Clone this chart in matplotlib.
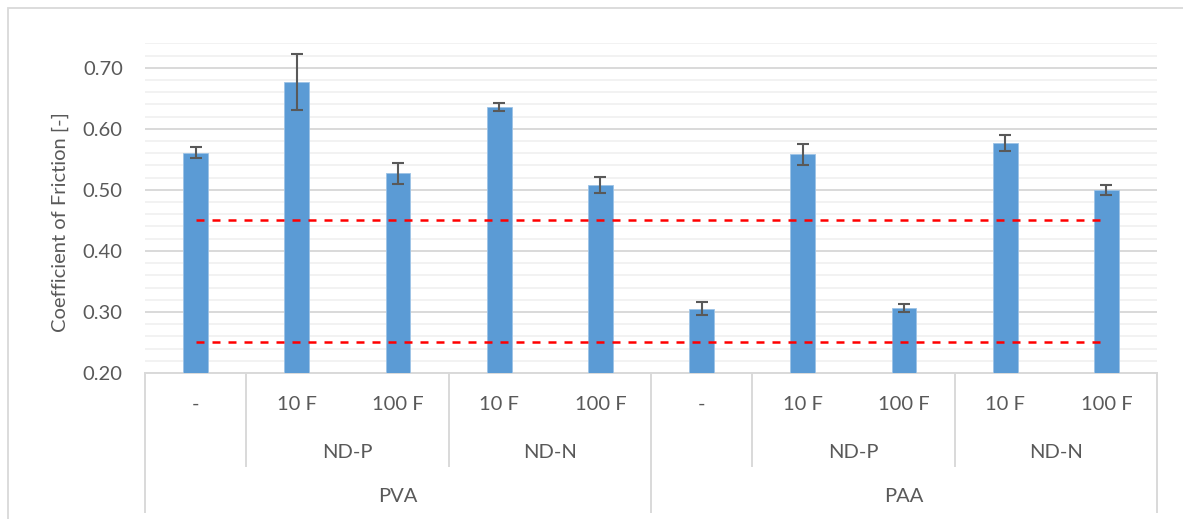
import matplotlib
matplotlib.use("Agg")
import matplotlib.pyplot as plt
from matplotlib.lines import Line2D
from matplotlib.patches import Rectangle
from matplotlib.ticker import MultipleLocator, FormatStrFormatter

# Three-level category axis
level1 = ["-", "10 F", "100 F", "10 F", "100 F", "-", "10 F", "100 F", "10 F", "100 F"]
level2 = ["ND-P", "ND-N", "ND-P", "ND-N"]
level2_spans = [(1, 2), (3, 4), (6, 7), (8, 9)]
level3 = ["PVA", "PAA"]
level3_spans = [(0, 4), (5, 9)]

# Mean coefficient of friction and standard deviation
cof_mean = [0.561, 0.677, 0.527, 0.635, 0.508, 0.305, 0.558, 0.307, 0.577, 0.500]
cof_err = [0.009, 0.046, 0.0175, 0.0065, 0.0125, 0.0105, 0.017, 0.0065, 0.0128, 0.008]

# Reference band limits
band_limits = [0.45, 0.25]

TEXT = "#595959"
FS = 14.5
plt.rcParams["font.family"] = ["Lato", "DejaVu Sans"]

W, H = 1183, 519
fig = plt.figure(figsize=(W / 100, H / 100), dpi=100)

# Chart frame
fig.patches.append(Rectangle((8 / W, -0.1), 1.2, (H - 8) / H + 0.1,
                             transform=fig.transFigure, fill=False,
                             edgecolor="#D9D9D9", linewidth=1.3))

x0, x1 = 145, 1157
y_top, y_bot = 43.3, 373
ax = fig.add_axes([x0 / W, (H - y_bot) / H, (x1 - x0) / W, (y_bot - y_top) / H])

n = len(cof_mean)
xs = list(range(n))
ax.bar(xs, cof_mean, width=0.247, color="#5B9BD5", edgecolor="#9DC3E6",
       linewidth=0.6, zorder=3)
ax.errorbar(xs, cof_mean, yerr=cof_err, fmt="none", ecolor="#595959",
            elinewidth=1.5, capsize=4, capthick=1.5, zorder=4)

for lim in band_limits:
    ax.plot([xs[0], xs[-1]], [lim, lim], color="#FF0000", linewidth=1.8,
            dashes=(3.2, 3.2), zorder=5)

ax.set_xlim(-0.5, n - 0.5)
ax.set_ylim(0.20, 0.74)
ax.yaxis.set_major_locator(MultipleLocator(0.1))
ax.yaxis.set_minor_locator(MultipleLocator(0.02))
ax.yaxis.set_major_formatter(FormatStrFormatter("%.2f"))
ax.grid(which="major", axis="y", color="#D9D9D9", linewidth=1.4, zorder=0)
ax.grid(which="minor", axis="y", color="#F2F2F2", linewidth=1.4, zorder=0)
ax.set_axisbelow(True)
ax.tick_params(axis="y", which="both", length=0, pad=16, labelsize=FS,
               labelcolor=TEXT)
ax.set_xticks([])
for s in ["left", "right", "top"]:
    ax.spines[s].set_visible(False)
ax.spines["bottom"].set_color("#D9D9D9")
ax.spines["bottom"].set_linewidth(1.4)

# Vertical axis title
fig.text(60 / W, (H - 222) / H, "Coefficient of Friction [-]", rotation=90,
         ha="center", va="center", fontsize=FS, color=TEXT)

# Category labels and separators below the axis
tr = ax.get_xaxis_transform()
ah = y_bot - y_top


def yfrac(py):
    return -(py - y_bot) / ah


for i, lab in enumerate(level1):
    ax.text(i, yfrac(404), lab, transform=tr, ha="center", va="center",
            fontsize=FS, color=TEXT, clip_on=False)
for lab, (a, b) in zip(level2, level2_spans):
    ax.text((a + b) / 2, yfrac(452), lab, transform=tr, ha="center",
            va="center", fontsize=FS, color=TEXT, clip_on=False)
for lab, (a, b) in zip(level3, level3_spans):
    ax.text((a + b) / 2, yfrac(497), lab, transform=tr, ha="center",
            va="center", fontsize=FS, color=TEXT, clip_on=False)

short_seps = [0.5, 2.5, 5.5, 7.5]
long_seps = [-0.5, 4.5, 9.5]
for xb in short_seps:
    ax.add_line(Line2D([xb, xb], [0, yfrac(466)], transform=tr,
                       color="#D9D9D9", linewidth=1.4, clip_on=False))
for xb in long_seps:
    ax.add_line(Line2D([xb, xb], [0, yfrac(512)], transform=tr,
                       color="#D9D9D9", linewidth=1.4, clip_on=False))

fig.savefig("out.png", dpi=100, facecolor="white")
